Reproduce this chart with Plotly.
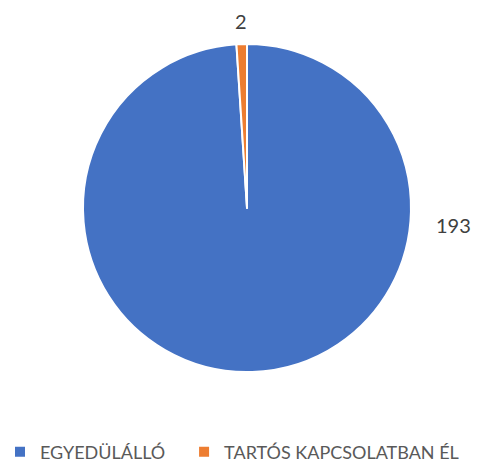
import plotly.graph_objects as go

labels = ["EGYEDÜLÁLLÓ", "TARTÓS KAPCSOLATBAN ÉL"]
values = [193, 2]
colors = ["#4472C4", "#ED7D31"]

W, H = 497, 465
cx, cy, r = 247, 208, 164

# legend display text: extra non-breaking spaces widen the gap between entries
legend_text = [labels[0] + "\u00a0" * 3, labels[1]]

fig = go.Figure(go.Pie(
    labels=legend_text,
    values=values,
    marker=dict(colors=colors, line=dict(color="white", width=2)),
    sort=False,
    direction="clockwise",
    rotation=0,
    textinfo="none",
    hoverinfo="label+value",
    domain=dict(x=[(cx - r) / W, (cx + r) / W], y=[1 - (cy + r) / H, 1 - (cy - r) / H]),
))

label_pos = [(453, 225), (241, 21)]
for v, (x, y) in zip(values, label_pos):
    fig.add_annotation(x=x / W, y=1 - y / H, xref="paper", yref="paper",
                       xanchor="center", yanchor="middle",
                       text=str(v), showarrow=False,
                       font=dict(family="Lato", size=20, color="#404040"))

fig.update_layout(
    width=W, height=H,
    margin=dict(l=0, r=0, t=0, b=0, autoexpand=False),
    paper_bgcolor="white",
    plot_bgcolor="white",
    font=dict(family="Lato", color="#595959"),
    legend=dict(orientation="h", x=0, xanchor="left", y=1 - 452 / H, yanchor="middle",
                font=dict(family="Lato", size=18, color="#595959"),
                itemwidth=30, tracegroupgap=0),
    showlegend=True,
)

fig.write_html("out.html", config={"displayModeBar": False},
               post_script="document.body.style.margin='0';document.body.style.overflow='hidden';")
